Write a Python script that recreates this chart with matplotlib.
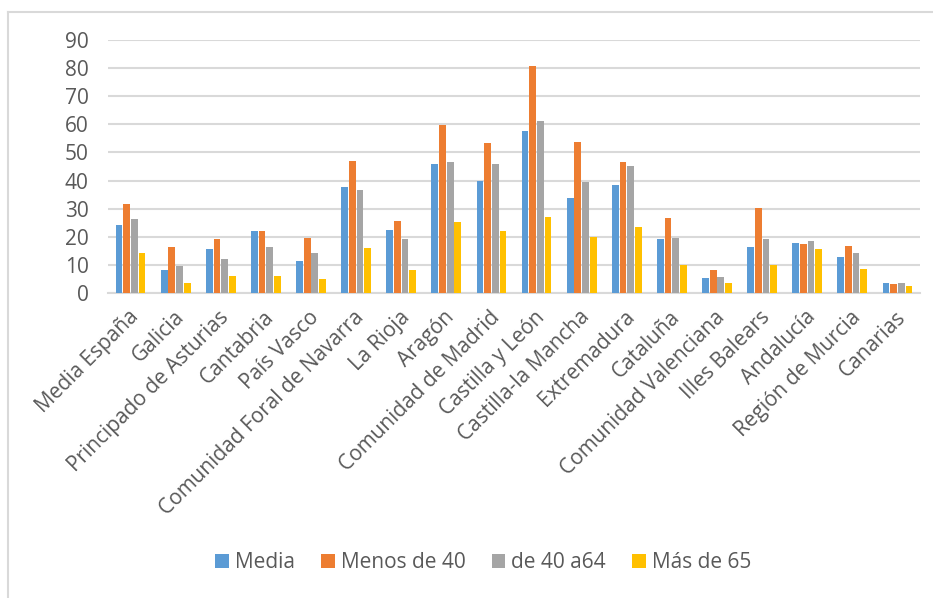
import matplotlib
matplotlib.use("Agg")
import matplotlib.pyplot as plt
import numpy as np
from matplotlib.lines import Line2D

categories = ["Media España", "Galicia", "Principado de Asturias", "Cantabria", "País Vasco",
              "Comunidad Foral de Navarra", "La Rioja", "Aragón", "Comunidad de Madrid",
              "Castilla y León", "Castilla-la Mancha", "Extremadura", "Cataluña",
              "Comunidad Valenciana", "Illes Balears", "Andalucía", "Región de Murcia", "Canarias"]
media = [24.3, 8.1, 15.5, 21.9, 11.3, 37.7, 22.5, 46.0, 39.8, 57.6, 33.9, 38.5, 19.0, 5.2, 16.3, 17.7, 12.6, 3.3]
menos40 = [31.7, 16.3, 19.1, 21.9, 19.6, 47.0, 25.7, 59.8, 53.4, 81.0, 53.7, 46.5, 26.5, 8.1, 30.2, 17.2, 16.8, 3.0]
de40a64 = [26.2, 9.5, 12.2, 16.3, 14.0, 36.7, 19.1, 46.5, 46.0, 61.2, 39.5, 45.2, 19.6, 5.7, 19.0, 18.3, 14.0, 3.3]
mas65 = [14.0, 3.4, 5.8, 5.8, 4.9, 15.9, 8.1, 25.3, 22.0, 27.0, 20.0, 23.3, 9.8, 3.3, 9.8, 15.5, 8.4, 2.5]
series_names = ["Media", "Menos de 40", "de 40 a64", "Más de 65"]
yticks = [0, 10, 20, 30, 40, 50, 60, 70, 80, 90]

colors = ["#5B9BD5", "#ED7D31", "#A5A5A5", "#FFC000"]
txt = "#595959"
grid = "#D9D9D9"

plt.rcParams["font.family"] = ["Open Sans", "DejaVu Sans"]

fig = plt.figure(figsize=(9.33, 5.98), dpi=100)
ax = fig.add_axes([0.1158, 0.5105, 0.8702, 0.4221])

x = np.arange(len(categories))
step = 0.17
width = 0.15
data = [media, menos40, de40a64, mas65]
for i, (vals, name, c) in enumerate(zip(data, series_names, colors)):
    ax.bar(x + (i - 1.5) * step, vals, width=width, color=c, label=name, zorder=3)

ax.set_xlim(-0.5, len(categories) - 0.5)
ax.set_ylim(0, 90)
ax.set_yticks(yticks)
ax.set_yticklabels([str(t) for t in yticks])
ax.yaxis.grid(True, color=grid, linewidth=1.5, zorder=0)
ax.set_axisbelow(True)
for s in ["top", "right", "left"]:
    ax.spines[s].set_visible(False)
ax.spines["bottom"].set_color(grid)
ax.spines["bottom"].set_linewidth(1.5)
ax.tick_params(axis="y", length=0, pad=14, labelsize=15, labelcolor=txt)
ax.tick_params(axis="x", length=0, pad=10, labelsize=15, labelcolor=txt)
ax.set_xticks(x - 0.05)
ax.set_xticklabels(categories, rotation=45, ha="right", va="top", rotation_mode="anchor")

leg = fig.legend(loc="center", bbox_to_anchor=(0.518, 1 - 563 / 598), ncol=4, frameon=False,
                 fontsize=15, handlelength=0.65, handleheight=0.65, handletextpad=0.3,
                 columnspacing=1.25, labelcolor=txt)

fig.add_artist(Line2D([8 / 933, 1.0], [1 - 12 / 598, 1 - 12 / 598], transform=fig.transFigure,
                      color=grid, linewidth=1.5))
fig.add_artist(Line2D([8 / 933, 8 / 933], [0, 1 - 12 / 598], transform=fig.transFigure,
                      color=grid, linewidth=1.5))

fig.savefig("out.png", dpi=100, facecolor="white")
